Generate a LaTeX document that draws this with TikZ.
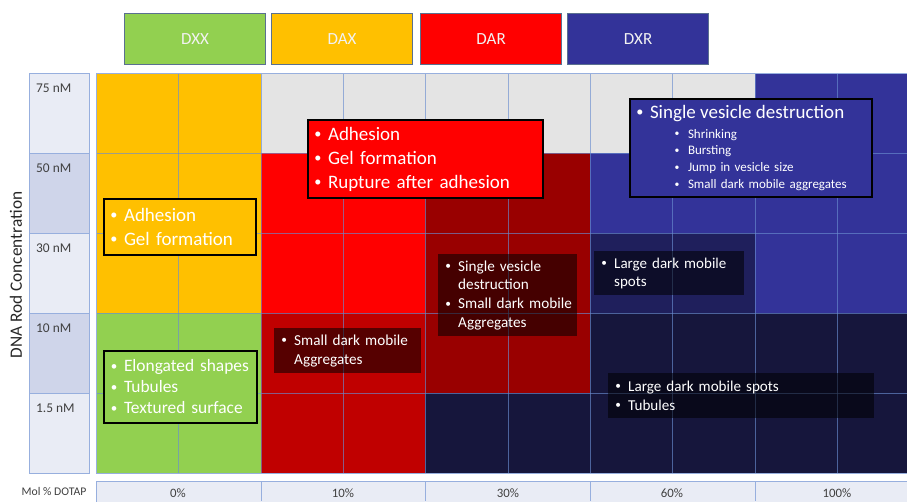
\documentclass[tikz,border=0pt]{standalone}
\usepackage{graphicx}
\usepackage{fontspec}
\setmainfont{Carlito}

\definecolor{dxxgreen}{RGB}{146,208,80}
\definecolor{daxorange}{RGB}{255,192,0}
\definecolor{darred}{RGB}{255,0,0}
\definecolor{dxrblue}{RGB}{51,51,153}
\definecolor{cellgrey}{RGB}{228,228,228}
\definecolor{redmid}{RGB}{192,0,0}
\definecolor{reddark}{RGB}{153,0,0}
\definecolor{navymid}{RGB}{31,31,92}
\definecolor{navydark}{RGB}{22,22,60}
\definecolor{axislight}{RGB}{233,236,245}
\definecolor{axisdark}{RGB}{207,213,234}
\definecolor{gridblue}{RGB}{106,141,208}
\definecolor{legendedge}{RGB}{90,112,144}
\definecolor{labelgrey}{RGB}{64,64,64}

\newcommand{\bdot}{\raisebox{0.1em}{\scalebox{0.75}{\textbullet}}}
\newcommand{\bul}[1]{\mbox{\makebox[20pt][c]{\bdot}#1}}
\newcommand{\cont}[1]{\mbox{\hspace*{20pt}#1}}
\newcommand{\subbul}[1]{\mbox{\hspace*{36pt}\makebox[22pt][c]{\bdot}#1}}

\begin{document}
\begin{tikzpicture}[x=1pt,y=-1pt,
    gridline/.style={draw=gridblue, line width=1pt, opacity=0.65},
    axiscell/.style={draw=gridblue!70, line width=0.8pt},
    legendbox/.style={draw=legendedge, line width=1.2pt, anchor=north west,
        minimum width=141pt, minimum height=51pt, text=white!95!black,
        font=\fontsize{17}{19}\selectfont},
    notebox/.style={draw=black, line width=2pt, anchor=north west, text=white,
        inner sep=0pt, align=left},
    shadebox/.style={fill=black, fill opacity=0.55, text opacity=1, text=white,
        anchor=north west, inner sep=0pt, align=left},
    rowlabel/.style={anchor=base west, inner sep=0pt, text=labelgrey,
        font=\fontsize{13.4}{15}\selectfont},
    collabel/.style={anchor=base, inner sep=0pt, text=labelgrey,
        font=\fontsize{12.8}{14}\selectfont}]
\useasboundingbox (0,0) rectangle (907,501);

% legend
\node[legendbox, fill=dxxgreen] (dxx) at (124,13) {DXX};
\node[legendbox, fill=daxorange] (dax) at (271,13) {DAX};
\node[legendbox, fill=darred] (dar) at (420,13) {DAR};
\node[legendbox, fill=dxrblue] (dxr) at (567,13) {DXR};

% concentration axis
\draw[axiscell, fill=axislight] (29,73) rectangle (89,153);
\draw[axiscell, fill=axisdark] (29,153) rectangle (89,233);
\draw[axiscell, fill=axislight] (29,233) rectangle (89,313);
\draw[axiscell, fill=axisdark] (29,313) rectangle (89,393);
\draw[axiscell, fill=axislight] (29,393) rectangle (89,473);
\node[rowlabel] (c75) at (36,92) {75 nM};
\node[rowlabel] (c50) at (36,172) {50 nM};
\node[rowlabel] (c30) at (36,252) {30 nM};
\node[rowlabel] (c10) at (36,332) {10 nM};
\node[rowlabel] (c15) at (36,412) {1.5 nM};
\node[rotate=90, font=\fontsize{17.3}{19}\selectfont, text=black!85] (yaxis)
    at (16,275) {DNA Rod Concentration};

% cells
\fill[daxorange] (96,73) rectangle (261,313);
\fill[dxxgreen] (96,313) rectangle (261,473);
\fill[cellgrey] (261,73) rectangle (755,153);
\fill[dxrblue] (755,73) rectangle (907,313);
\fill[darred] (261,153) rectangle (425,313);
\fill[reddark] (425,153) rectangle (590,393);
\fill[dxrblue] (590,153) rectangle (755,233);
\fill[navymid] (590,233) rectangle (755,313);
\fill[redmid] (261,313) rectangle (425,473);
\fill[navydark] (590,313) rectangle (907,473);
\fill[navydark] (425,393) rectangle (590,473);

% grid lines
\draw[gridline] (178,73) -- (178,473);
\draw[gridline] (261,73) -- (261,473);
\draw[gridline] (343,73) -- (343,473);
\draw[gridline] (425,73) -- (425,473);
\draw[gridline] (508,73) -- (508,473);
\draw[gridline] (590,73) -- (590,473);
\draw[gridline] (672,73) -- (672,473);
\draw[gridline] (755,73) -- (755,473);
\draw[gridline] (837,73) -- (837,473);
\draw[gridline] (96,153) -- (907,153);
\draw[gridline] (96,233) -- (907,233);
\draw[gridline] (96,313) -- (907,313);
\draw[gridline] (96,393) -- (907,393);
\draw[axiscell] (96,73) rectangle (908,473);

% DOTAP axis
\draw[axiscell, fill=axislight] (96,481) rectangle (908,505);
\draw[axiscell] (261,481) -- (261,501);
\draw[axiscell] (425,481) -- (425,501);
\draw[axiscell] (590,481) -- (590,501);
\draw[axiscell] (755,481) -- (755,501);
\node[collabel] (m0) at (178,497) {0\%};
\node[collabel] (m10) at (343,497) {10\%};
\node[collabel] (m30) at (508,497) {30\%};
\node[collabel] (m60) at (672,497) {60\%};
\node[collabel] (m100) at (837,497) {100\%};
\node[anchor=base, inner sep=0pt, text=labelgrey,
    font=\fontsize{11.7}{13}\selectfont] (dotap) at (54,495) {Mol \% DOTAP};

% observations
\node[notebox, fill=daxorange, text width=152pt, minimum height=56pt,
    font=\fontsize{19}{24}\selectfont] (adhdax) at (103,198)
    {\bul{Adhesion}\\ \bul{Gel formation}};
\node[notebox, fill=darred, text width=235pt, minimum height=78pt,
    font=\fontsize{19}{24}\selectfont] (adhdar) at (307,119)
    {\bul{Adhesion}\\ \bul{Gel formation}\\ \bul{Rupture after adhesion}};
\node[notebox, fill=dxrblue, text width=242pt, minimum height=98pt,
    font=\fontsize{13}{16.7}\selectfont] (svd) at (629,98)
    {{\fontsize{19}{22}\selectfont\bul{Single vesicle destruction}\par}
     \vspace{3pt}
     \subbul{Shrinking}\\ \subbul{Bursting}\\ \subbul{Jump in vesicle size}\\
     \subbul{Small dark mobile aggregates}};
\node[notebox, fill=dxxgreen, text width=153pt, minimum height=72pt,
    font=\fontsize{17.4}{21}\selectfont] (elong) at (103,350)
    {\bul{Elongated shapes}\\ \bul{Tubules}\\ \bul{Textured surface}};
\node[shadebox, text width=139pt, minimum height=82pt,
    font=\fontsize{15.2}{18.7}\selectfont] (svdark) at (438,254)
    {\bul{Single vesicle}\\ \cont{destruction}\\ \bul{Small dark mobile}\\
     \cont{Aggregates}};
\node[shadebox, text width=147pt, minimum height=45pt,
    font=\fontsize{15.2}{19}\selectfont] (smallagg) at (274,328)
    {\bul{Small dark mobile}\\ \cont{Aggregates}};
\node[shadebox, text width=150pt, minimum height=44pt,
    font=\fontsize{15}{18}\selectfont] (largespots) at (594,251)
    {\bul{Large dark mobile}\\ \cont{spots}};
\node[shadebox, text width=266pt, minimum height=45pt,
    font=\fontsize{15.1}{19}\selectfont] (largetub) at (608,373)
    {\bul{Large dark mobile spots}\\ \bul{Tubules}};
\end{tikzpicture}
\end{document}
